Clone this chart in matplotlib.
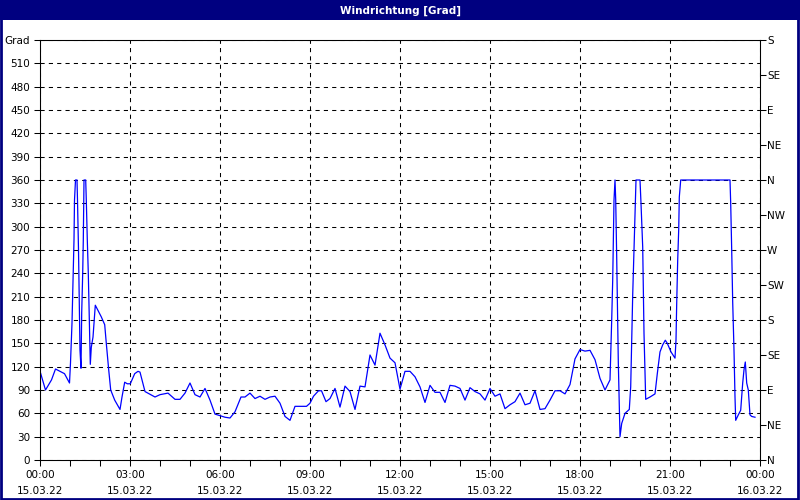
import matplotlib
matplotlib.use("Agg")
import matplotlib.pyplot as plt
from matplotlib.patches import Rectangle
import numpy as np

# minutes since 15.03.22 00:00 and wind direction in degrees
minutes = [1, 11, 23, 31, 49, 59, 61, 64, 66, 68, 69, 71, 74, 75, 77, 79, 80, 82,
           83.4, 85.4, 86.6, 87.4, 88, 91.4, 92.6, 94.6, 96.6, 98, 99.4, 100.6, 102.6,
           106, 108, 110.6, 122.6, 129.4, 132.6, 137.4, 141.4, 149.4, 160, 164, 169.4,
           174.6, 180.6, 189.4, 196,
           200, 210, 230, 240, 256, 270, 280, 290, 300, 310, 320, 330, 340, 350, 360,
           370, 380, 390, 402, 410, 420, 430, 440, 450, 460, 470, 480, 490, 500, 510,
           533, 540, 547, 557, 563, 572, 580, 590, 600, 610, 620, 630, 640, 650, 660,
           670, 680, 690, 700, 710, 720, 730, 740, 750, 760, 770, 780, 790, 800, 810,
           820, 830, 840, 850, 860, 870, 880, 890, 900, 910, 920, 930, 940, 950, 960,
           970, 980, 990, 1000, 1010, 1020, 1030, 1040, 1050, 1060, 1070, 1080, 1090,
           1100, 1110, 1120, 1130, 1140, 1143.4, 1145.4, 1148, 1150, 1151.4, 1153.4,
           1156.6, 1160, 1163.4, 1170, 1178.6, 1181.4, 1183.4, 1185.4, 1188, 1190.6,
           1192, 1200, 1202, 1205.4, 1208, 1211.4, 1220, 1230, 1234.6, 1240, 1245.4,
           1250.6, 1254.6, 1262, 1270, 1272, 1273.4, 1275.4, 1277.4, 1278.6, 1281.4,
           1380, 1381.4, 1383.4, 1385.4, 1388, 1390, 1391.4, 1396.6, 1401.4, 1405.4, 1408,
           1410.6, 1413.4, 1416.6, 1420, 1423.4, 1430]
grad = [112, 90, 103, 117, 111, 99, 125, 176, 228, 283, 334, 360, 360, 334, 270, 189, 141, 118,
        189, 240, 283, 334, 360, 360, 334, 283, 240, 197, 150, 123, 145,
        158, 176, 199, 184, 174, 150, 116, 90, 77, 65, 81, 100,
        98, 98, 111, 114,
        113, 88, 81, 84, 86, 78, 78, 86, 99, 84, 81, 92, 77, 59, 57,
        55, 54, 62, 81, 81, 86, 79, 82, 78, 81, 82, 73, 56, 51, 69,
        69, 73, 82, 89, 89, 75, 79, 92, 68, 95, 88, 65, 95, 94, 135,
        122, 163, 148, 131, 125, 91, 114, 114, 107, 94, 74, 96, 87, 87, 74,
        96, 95, 92, 77, 93, 88, 85, 77, 92, 82, 85, 66, 71, 75, 86,
        71, 73, 89, 65, 66, 77, 89, 89, 85, 97, 130, 142, 140,
        141, 129, 105, 90, 103, 180, 231, 334, 360, 335, 261,
        126, 30, 47, 60, 65, 94, 154, 212, 272, 330,
        360, 360, 330, 274, 163, 78, 81, 85, 111, 139, 148,
        154, 150, 139, 131, 154, 201, 257, 296, 338, 360,
        360, 330, 270, 203, 141, 81, 51, 58, 64, 99, 116,
        126, 99, 90, 58, 56, 55]

hour_ticks = [0, 3, 6, 9, 12, 15, 18, 21, 24]
hour_labels = ["00:00\n15.03.22", "03:00\n15.03.22", "06:00\n15.03.22", "09:00\n15.03.22",
               "12:00\n15.03.22", "15:00\n15.03.22", "18:00\n15.03.22", "21:00\n15.03.22",
               "00:00\n16.03.22"]
left_ticks = list(range(0, 541, 30))
left_labels = [str(v) for v in range(0, 511, 30)] + ["Grad"]
right_ticks = list(range(0, 541, 45))
right_labels = ["N", "NE", "E", "SE", "S", "SW", "W", "NW", "N", "NE", "E", "SE", "S"]

navy = "#000080"
fs = 7.5
lw = 0.75

fig = plt.figure(figsize=(8, 5), dpi=100)
fig.patch.set_facecolor("white")

# title bar and frame
fig.patches.append(Rectangle((0, 0.96), 1, 0.04, transform=fig.transFigure,
                             facecolor=navy, edgecolor="none", zorder=0))
fig.patches.append(Rectangle((0.001, 0.002), 0.997, 0.996, transform=fig.transFigure,
                             facecolor="none", edgecolor=navy, linewidth=2, zorder=5))
fig.text(0.5, 0.979, "Windrichtung [Grad]", color="white", fontsize=7.5, fontweight="bold",
         ha="center", va="center")

ax = fig.add_axes([0.05, 0.08, 0.90, 0.84])
hours = np.array(minutes) / 60.0
ax.plot(hours, grad, color="#0000FF", linewidth=0.9)

ax.set_xlim(0, 24)
ax.set_ylim(0, 540)
ax.set_xticks(hour_ticks)
ax.set_xticklabels(hour_labels, fontsize=fs, linespacing=1.75)
ax.set_xticks(range(0, 25), minor=True)
ax.set_yticks(left_ticks)
ax.set_yticklabels(left_labels, fontsize=fs)
ax.tick_params(axis="both", direction="out", length=4, width=lw, color="black", pad=3)
ax.tick_params(axis="x", which="minor", direction="out", length=4, width=lw)

ax.grid(True, which="major", color="black", linestyle=(0, (4, 4)), linewidth=lw)
for s in ax.spines.values():
    s.set_linewidth(lw)
    s.set_color("black")

ax2 = ax.twinx()
ax2.set_ylim(0, 540)
ax2.set_yticks(right_ticks)
ax2.set_yticklabels(right_labels, fontsize=fs)
ax2.tick_params(axis="y", direction="out", length=4, width=lw, pad=1)
for s in ax2.spines.values():
    s.set_linewidth(lw)

fig.savefig("out.png", dpi=100)
